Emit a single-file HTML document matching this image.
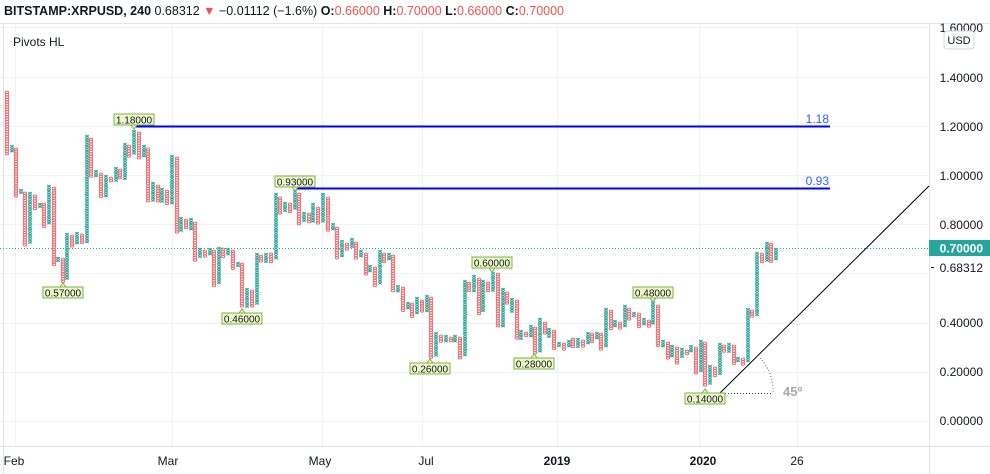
<!DOCTYPE html>
<html><head><meta charset="utf-8"><style>
body{margin:0;width:990px;height:474px;overflow:hidden;background:#fff;font-family:"Liberation Sans",sans-serif;}
svg{position:absolute;left:0;top:0}
</style></head><body>
<svg id="s" width="990" height="474" xmlns="http://www.w3.org/2000/svg">
<g stroke="#f0f3fa" stroke-width="1">
<line x1="0" y1="27.5" x2="929" y2="27.5"/><line x1="0" y1="77.5" x2="929" y2="77.5"/><line x1="0" y1="126.5" x2="929" y2="126.5"/><line x1="0" y1="175.5" x2="929" y2="175.5"/><line x1="0" y1="224.5" x2="929" y2="224.5"/><line x1="0" y1="273.5" x2="929" y2="273.5"/><line x1="0" y1="323.5" x2="929" y2="323.5"/><line x1="0" y1="372.5" x2="929" y2="372.5"/><line x1="0" y1="421.5" x2="929" y2="421.5"/>
<line x1="15.5" y1="24" x2="15.5" y2="446"/><line x1="172.5" y1="24" x2="172.5" y2="446"/><line x1="322.5" y1="24" x2="322.5" y2="446"/><line x1="422.5" y1="24" x2="422.5" y2="446"/><line x1="557.5" y1="24" x2="557.5" y2="446"/><line x1="699.5" y1="24" x2="699.5" y2="446"/><line x1="797.5" y1="24" x2="797.5" y2="446"/>
</g>
<g stroke="#e0e3eb" stroke-width="1">
<line x1="0" y1="23.5" x2="990" y2="23.5"/><line x1="0" y1="446.5" x2="990" y2="446.5"/><line x1="929.5" y1="23" x2="929.5" y2="474"/><line x1="3.5" y1="23" x2="3.5" y2="474"/>
</g>
<line x1="0" y1="248.5" x2="929" y2="248.5" stroke="#26a69a" stroke-dasharray="1,2"/>
<g id="cols"></g>
<line x1="134" y1="126.5" x2="830" y2="126.5" stroke="#0000ff" stroke-width="2"/>
<line x1="295" y1="188.5" x2="830" y2="188.5" stroke="#0000ff" stroke-width="2"/>
<text x="829" y="123" font-size="12" fill="#2962ff" text-anchor="end">1.18</text>
<text x="829" y="185" font-size="12" fill="#2962ff" text-anchor="end">0.93</text>
<line x1="720" y1="393" x2="929" y2="186" stroke="#000" stroke-width="1"/>
<line x1="722" y1="393.5" x2="773" y2="393.5" stroke="#333" stroke-dasharray="1,2"/>
<path d="M760 358 A48 48 0 0 1 773 393" fill="none" stroke="#666" stroke-dasharray="1,2"/>
<text x="783" y="396" font-size="13" font-weight="bold" fill="#aaa">45º</text>
<g id="lbl"></g>
<g font-size="12" fill="#131722">
<text x="983" y="82" text-anchor="end">1.40000</text><text x="983" y="131" text-anchor="end">1.20000</text><text x="983" y="180" text-anchor="end">1.00000</text><text x="983" y="229" text-anchor="end">0.80000</text><text x="983" y="327" text-anchor="end">0.40000</text><text x="983" y="376" text-anchor="end">0.20000</text><text x="983" y="425" text-anchor="end">0.00000</text>
<text x="983" y="32" text-anchor="end">1.60000</text>
</g>
<rect x="944" y="31" width="30" height="18" rx="3" fill="#fff" stroke="#d1d4dc"/>
<text x="959" y="44" font-size="11" fill="#131722" text-anchor="middle">USD</text>
<rect x="929" y="240" width="61" height="16" fill="#26a69a"/>
<text x="983" y="252.5" font-size="12" font-weight="bold" fill="#fff" text-anchor="end">0.70000</text>
<rect x="930" y="258" width="60" height="16" fill="#fff"/>
<line x1="931" y1="267.5" x2="934" y2="267.5" stroke="#131722"/>
<text x="983" y="272" font-size="12" fill="#131722" text-anchor="end">0.68312</text>
<g font-size="12" fill="#131722" text-anchor="middle">
<text x="14" y="465">Feb</text><text x="168" y="465">Mar</text><text x="320" y="465">May</text><text x="426" y="465">Jul</text><text x="557" y="465" font-weight="bold">2019</text><text x="703" y="465" font-weight="bold">2020</text><text x="797" y="465">26</text>
</g>
<text x="4" y="15" font-size="12.5" fill="#131722"><tspan font-weight="bold">BITSTAMP:XRPUSD, 240</tspan> 0.68312 <tspan fill="#ef5350">▼</tspan> −0.01112 (−1.6%) <tspan font-weight="bold">O:</tspan><tspan fill="#ef5350">0.66000</tspan> <tspan font-weight="bold">H:</tspan><tspan fill="#ef5350">0.70000</tspan> <tspan font-weight="bold">L:</tspan><tspan fill="#ef5350">0.66000</tspan> <tspan font-weight="bold">C:</tspan><tspan fill="#ef5350">0.70000</tspan></text>
<text x="13" y="46" font-size="12" fill="#131722">Pivots HL</text>
</svg>
<script>
var C=[
[7,91,154,0],[12,145,152,1],[16,148,198,0],[21,189,195,1],[25,192,245,0],[30,192,243,1],[35,195,210,0],[40,203,208,1],[44,203,227,0],[49,185,225,1],[54,187,265,0],[58,257,263,1],[63,258,282,0],[67,233,280,1],[72,235,247,0],[77,232,245,1],[82,234,245,0],[87,135,243,1],[91,138,178,0],[96,170,177,1],[101,173,198,0],[106,175,197,1],[111,177,183,0],[116,167,182,1],[120,169,180,0],[125,143,180,1],[129,145,157,0],[134,130,155,1],[139,132,158,0],[144,145,157,1],[148,148,202,0],[153,182,202,1],[158,185,203,0],[162,188,203,1],[167,190,205,0],[172,155,203,1],[177,157,233,0],[181,217,232,1],[186,219,230,0],[191,218,230,1],[195,222,262,0],[200,248,258,1],[205,250,258,0],[210,248,255,1],[214,250,287,0],[219,247,285,1],[223,248,257,0],[228,248,255,1],[233,250,270,0],[238,262,268,1],[242,263,308,0],[247,288,307,1],[252,290,307,0],[257,253,305,1],[261,255,263,0],[266,253,262,1],[271,253,262,0],[276,193,260,1],[280,197,215,0],[285,202,213,1],[290,203,213,0],[295,190,210,1],[299,193,225,0],[304,212,223,1],[309,213,223,0],[313,203,222,1],[318,207,225,0],[323,193,223,1],[328,197,232,0],[333,223,230,1],[337,227,260,0],[342,240,258,1],[347,243,250,0],[352,238,248,1],[356,242,260,0],[361,250,257,1],[366,253,275,0],[370,265,273,1],[375,267,287,0],[380,250,285,1],[384,253,263,0],[389,253,260,1],[393,255,293,0],[398,285,293,1],[403,287,312,0],[408,302,310,1],[412,303,317,0],[417,297,313,1],[422,300,313,0],[427,295,312,1],[431,297,358,0],[436,332,357,1],[441,335,342,0],[446,335,342,1],[451,337,343,0],[455,335,342,1],[460,337,358,0],[465,280,357,1],[469,282,293,0],[474,275,292,1],[479,278,315,0],[483,280,312,1],[488,282,293,0],[493,272,292,1],[498,273,328,0],[503,288,328,1],[507,292,305,0],[512,298,312,1],[517,300,340,0],[521,330,340,1],[526,332,338,0],[531,325,337,1],[535,327,353,0],[540,318,352,1],[545,322,335,0],[549,328,338,1],[554,330,350,0],[559,342,348,1],[564,343,350,0],[569,340,348,1],[573,338,348,0],[578,338,347,1],[583,340,348,0],[588,332,345,1],[592,333,342,0],[597,332,340,1],[601,333,350,0],[606,308,348,1],[611,310,330,0],[615,320,328,1],[620,322,330,0],[625,305,328,1],[629,308,320,0],[634,312,318,1],[639,313,327,0],[644,318,325,1],[649,320,327,0],[653,300,325,1],[658,305,348,0],[663,340,347,1],[668,342,358,0],[672,345,357,1],[677,347,363,0],[682,348,357,1],[687,350,355,0],[691,345,353,1],[696,347,375,0],[701,340,373,1],[705,342,387,0],[710,365,385,1],[715,367,377,0],[720,343,375,1],[724,345,353,0],[729,343,352,1],[734,345,365,0],[738,357,363,1],[743,358,365,0],[748,308,363,1],[752,310,317,0],[757,252,315,1],[762,253,263,0],[767,242,262,1],[771,243,262,0],[776,248,260,1]];
var h='';
C.forEach(function(c){
 var x=c[0],t=c[1],b=c[2];
 for(var y=t+1.2;y<=b;y+=2.46){
  if(c[3]) h+='<path d="M'+(x-1.7)+' '+(y-1.1)+'L'+(x+1.7)+' '+(y+1.1)+'M'+(x+1.7)+' '+(y-1.1)+'L'+(x-1.7)+' '+(y+1.1)+'" stroke="#26a69a" stroke-width="1.1"/>';
  else h+='<ellipse cx="'+x+'" cy="'+y+'" rx="1.7" ry="1.1" fill="none" stroke="#ef6a6e" stroke-width="1"/>';
 }
});
document.getElementById('cols').innerHTML=h;
var L=[[134,114,'1.18000',1],[63,287,'0.57000',0],[242,313,'0.46000',0],[295,176,'0.93000',1],[430,363,'0.26000',0],[492,257,'0.60000',1],[534,358,'0.28000',0],[653,287,'0.48000',1],[705,393,'0.14000',0]];
var g='';
L.forEach(function(l){
 var x=l[0],y=l[1];
 g+='<rect x="'+(x-20)+'" y="'+y+'" width="40" height="11" fill="#eef7c8" stroke="#7ab648" stroke-width="1"/>';
 if(l[3]) g+='<path d="M'+(x-3)+' '+(y+11)+'L'+x+' '+(y+15)+'L'+(x+3)+' '+(y+11)+'Z" fill="#eef7c8" stroke="#7ab648"/>';
 else g+='<path d="M'+(x-3)+' '+y+'L'+x+' '+(y-4)+'L'+(x+3)+' '+y+'Z" fill="#eef7c8" stroke="#7ab648"/>';
 g+='<text x="'+x+'" y="'+(y+9.5)+'" font-size="10" fill="#131722" text-anchor="middle">'+l[2]+'</text>';
});
document.getElementById('lbl').innerHTML=g;
</script>
</body></html>
